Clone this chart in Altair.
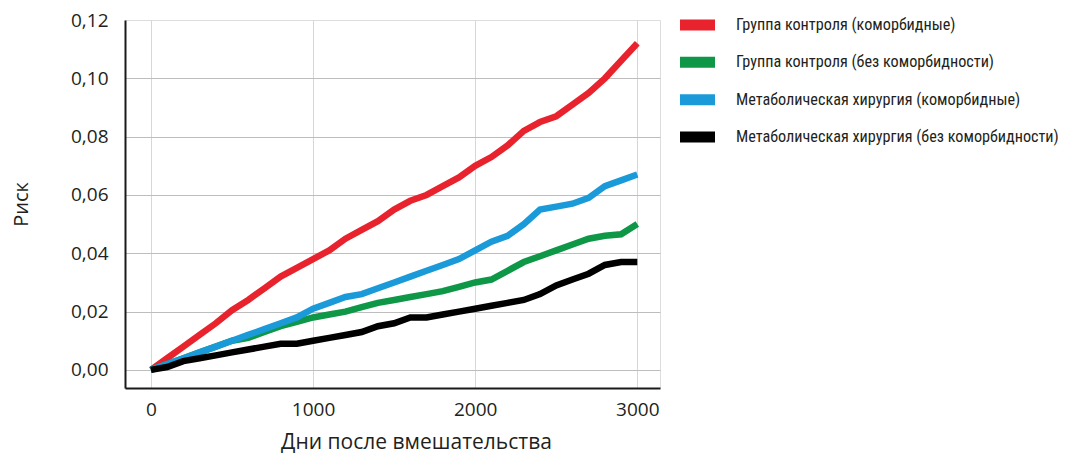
import altair as alt
import pandas as pd

days = [0, 100, 200, 300, 400, 500, 600, 700, 800, 900, 1000, 1100, 1200, 1300, 1400,
        1500, 1600, 1700, 1800, 1900, 2000, 2100, 2200, 2300, 2400, 2500, 2600, 2700,
        2800, 2900, 3000]

red = [0.0, 0.004, 0.008, 0.012, 0.016, 0.0205, 0.024, 0.028, 0.032, 0.035, 0.038, 0.041,
       0.045, 0.048, 0.051, 0.055, 0.058, 0.060, 0.063, 0.066, 0.070, 0.073, 0.077, 0.082,
       0.085, 0.087, 0.091, 0.095, 0.100, 0.106, 0.112]
green = [0.0, 0.002, 0.004, 0.006, 0.008, 0.010, 0.011, 0.013, 0.015, 0.0165, 0.018, 0.019,
         0.020, 0.0215, 0.023, 0.024, 0.025, 0.026, 0.027, 0.0285, 0.030, 0.031, 0.034, 0.037,
         0.039, 0.041, 0.043, 0.045, 0.046, 0.0465, 0.050]
blue = [0.0, 0.002, 0.004, 0.006, 0.008, 0.010, 0.012, 0.014, 0.016, 0.018, 0.021, 0.023,
        0.025, 0.026, 0.028, 0.030, 0.032, 0.034, 0.036, 0.038, 0.041, 0.044, 0.046, 0.050,
        0.055, 0.056, 0.057, 0.059, 0.063, 0.065, 0.067]
black = [0.0, 0.001, 0.003, 0.004, 0.005, 0.006, 0.007, 0.008, 0.009, 0.009, 0.010, 0.011,
         0.012, 0.013, 0.015, 0.016, 0.018, 0.018, 0.019, 0.020, 0.021, 0.022, 0.023, 0.024,
         0.026, 0.029, 0.031, 0.033, 0.036, 0.037, 0.037]

series_names = [
    "Группа контроля (коморбидные)",
    "Группа контроля (без коморбидности)",
    "Метаболическая хирургия (коморбидные)",
    "Метаболическая хирургия (без коморбидности)",
]
series_colors = ["#e8232d", "#0d9747", "#1a9ad8", "#000000"]
series_values = [red, green, blue, black]

rows = []
for name, vals in zip(series_names, series_values):
    for d, v in zip(days, vals):
        rows.append({"day": d, "risk": v, "group": name})
df = pd.DataFrame(rows)
legend_df = pd.DataFrame({"group": series_names})

label_font = "Open Sans"
legend_font = "Roboto Condensed, Liberation Sans Narrow, DejaVu Sans Condensed, sans-serif"
text_color = "#231f20"

color_scale = alt.Scale(domain=series_names, range=series_colors)

lines = alt.Chart(df).mark_line(strokeWidth=6.5, strokeCap="butt").encode(
    x=alt.X("day:Q",
            scale=alt.Scale(domain=[-160, 3140], nice=False, zero=False),
            axis=alt.Axis(values=[0, 1000, 2000, 3000], title="Дни после вмешательства",
                          format="d",
                          grid=True, gridColor="#c9dbe3", gridWidth=1,
                          domainColor="#1a1a1a", domainWidth=2, ticks=False,
                          labelFont=label_font, labelFontSize=19, labelColor=text_color,
                          labelPadding=12, titleFont=label_font, titleFontSize=21,
                          titleFontWeight="normal", titleColor=text_color,
                          titleX=291, titleY=60, titleAlign="center",
                          titleBaseline="alphabetic")),
    y=alt.Y("risk:Q",
            scale=alt.Scale(domain=[-0.0062, 0.12], nice=False, zero=False),
            axis=alt.Axis(values=[0, 0.02, 0.04, 0.06, 0.08, 0.10, 0.12], title="Риск",
                          labelExpr="replace(format(datum.value, '.2f'), '.', ',')",
                          grid=True, gridColor="#bdbdbd", gridWidth=1,
                          gridOpacity={"condition": {"test": "datum.value > 0.11", "value": 0}, "value": 1},
                          domainColor="#1a1a1a", domainWidth=2, ticks=False,
                          labelFont=label_font, labelFontSize=19, labelColor=text_color,
                          labelPadding=17, titleFont=label_font, titleFontSize=20,
                          titleFontWeight="normal", titleColor=text_color, titlePadding=39)),
    color=alt.Color("group:N", scale=color_scale, legend=None),
    order=alt.Order("day:Q"),
)

legend_y = alt.Y("group:N", scale=alt.Scale(type="point", domain=series_names,
                                            range=[5, 117], padding=0), axis=None)

legend_sym = alt.Chart(legend_df).mark_rule(strokeWidth=11).encode(
    x=alt.value(555), x2=alt.value(590),
    y=legend_y,
    color=alt.Color("group:N", scale=color_scale, legend=None),
)

legend_txt = alt.Chart(legend_df).mark_text(
    align="left", baseline="middle", font=legend_font, fontSize=16.2, color=text_color
).encode(
    x=alt.value(611),
    y=legend_y,
    text="group:N",
)

chart = alt.layer(lines, legend_sym, legend_txt).resolve_scale(
    y="independent"
).properties(
    width=535, height=368,
    padding={"left": 117, "top": 12, "right": 400, "bottom": 66},
    autosize=alt.AutoSizeParams(type="none"),
).configure_view(stroke=None).configure(background="white")

chart.save("out.html", embed_options={"renderer": "svg", "actions": False})
